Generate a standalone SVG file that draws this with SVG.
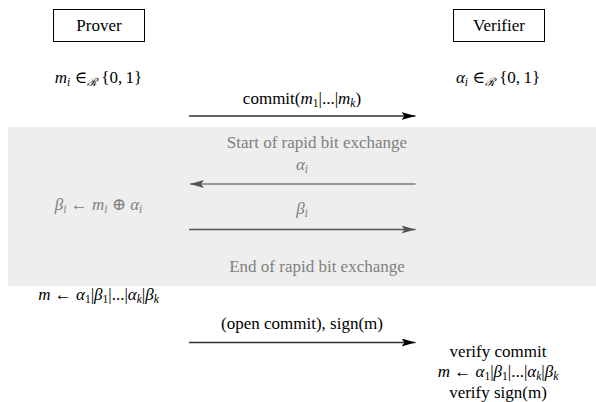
<svg xmlns="http://www.w3.org/2000/svg" width="596" height="402" viewBox="0 0 596 402">
  <style>
    text { font-family: "Liberation Serif", "DejaVu Serif", serif; font-size: 17px; fill: #000; text-anchor: middle; }
    .dim { fill: #808080; }
    .it { font-style: italic; }
    .sub { font-size: 11.5px; }
    .box { fill: #fff; stroke: #000; stroke-width: 1; }
    .msg { stroke: #333; stroke-width: 1.4; fill: none; }
    .msg-dim { stroke: #7a7a7a; stroke-width: 1.4; fill: none; }
    .msg-mid { stroke: #555; stroke-width: 1.4; fill: none; }
  </style>
  <defs>
    <marker id="head" markerWidth="14" markerHeight="8" refX="14" refY="4" orient="auto" markerUnits="userSpaceOnUse">
      <path d="M0,0 L14,4 L0,8 L3,4 Z" fill="#000"/>
    </marker>
    <marker id="head-gray" markerWidth="14" markerHeight="8" refX="14" refY="4" orient="auto" markerUnits="userSpaceOnUse">
      <path d="M0,0 L14,4 L0,8 L3,4 Z" fill="#555"/>
    </marker>
  </defs>

  <!-- rapid bit exchange phase -->
  <rect id="rapid-phase" x="8" y="127" width="588" height="159" fill="#eeeeee"/>

  <g id="prover">
    <rect class="box" x="53.5" y="9.5" width="91" height="32"/>
    <text x="99" y="31">Prover</text>
  </g>
  <g id="verifier">
    <rect class="box" x="453.5" y="9.5" width="91" height="32"/>
    <text x="499" y="31">Verifier</text>
  </g>

  <!-- prover-side computations -->
  <g id="prover-state">
    <text x="98.5" y="83"><tspan class="it">m</tspan><tspan class="it sub" dy="2.5">i</tspan><tspan dy="-2.5"> ∈</tspan><tspan class="it sub" dy="2.5">ℛ</tspan><tspan dy="-2.5"> {0,&#8201;1}</tspan></text>
    <text class="dim" x="98.5" y="210"><tspan class="it">β</tspan><tspan class="it sub" dy="2.5">i</tspan><tspan dy="-2.5"> ← </tspan><tspan class="it">m</tspan><tspan class="it sub" dy="2.5">i</tspan><tspan dy="-2.5"> ⊕ </tspan><tspan class="it">α</tspan><tspan class="it sub" dy="2.5">i</tspan></text>
    <text x="98.5" y="300"><tspan class="it">m</tspan> ← <tspan class="it">α</tspan><tspan class="sub" dy="2.5">1</tspan><tspan dy="-2.5">|</tspan><tspan class="it">β</tspan><tspan class="sub" dy="2.5">1</tspan><tspan dy="-2.5">|...|</tspan><tspan class="it">α</tspan><tspan class="it sub" dy="2.5">k</tspan><tspan dy="-2.5">|</tspan><tspan class="it">β</tspan><tspan class="it sub" dy="2.5">k</tspan></text>
  </g>

  <!-- verifier-side computations -->
  <g id="verifier-state">
    <text x="498" y="357">verify commit</text>
    <text x="498" y="377"><tspan class="it">m</tspan> ← <tspan class="it">α</tspan><tspan class="sub" dy="2.5">1</tspan><tspan dy="-2.5">|</tspan><tspan class="it">β</tspan><tspan class="sub" dy="2.5">1</tspan><tspan dy="-2.5">|...|</tspan><tspan class="it">α</tspan><tspan class="it sub" dy="2.5">k</tspan><tspan dy="-2.5">|</tspan><tspan class="it">β</tspan><tspan class="it sub" dy="2.5">k</tspan></text>
    <text x="498" y="398">verify sign(m)</text>
    <text x="498" y="83"><tspan class="it">α</tspan><tspan class="it sub" dy="2.5">i</tspan><tspan dy="-2.5"> ∈</tspan><tspan class="it sub" dy="2.5">ℛ</tspan><tspan dy="-2.5"> {0,&#8201;1}</tspan></text>
  </g>

  <!-- phase labels -->
  <g id="phase-labels">
    <text class="dim" x="317" y="148">Start of rapid bit exchange</text>
    <text class="dim" x="317" y="272">End of rapid bit exchange</text>
  </g>

  <!-- messages -->
  <g id="connectors">
    <line class="msg" x1="189" y1="116" x2="415.5" y2="116" marker-end="url(#head)"/>
    <text x="302" y="104">commit(<tspan class="it">m</tspan><tspan class="sub" dy="2.5">1</tspan><tspan dy="-2.5">|...|</tspan><tspan class="it">m</tspan><tspan class="it sub" dy="2.5">k</tspan><tspan dy="-2.5">)</tspan></text>

    <line class="msg-dim" x1="415.5" y1="184" x2="190" y2="184" marker-end="url(#head-gray)"/>
    <text class="dim" x="302" y="170"><tspan class="it">α</tspan><tspan class="it sub" dy="2.5">i</tspan></text>

    <line class="msg-mid" x1="189" y1="229.5" x2="415.5" y2="229.5" marker-end="url(#head-gray)"/>
    <text class="dim" x="302" y="214"><tspan class="it">β</tspan><tspan class="it sub" dy="2.5">i</tspan></text>

    <line class="msg" x1="189" y1="342.5" x2="415.5" y2="342.5" marker-end="url(#head)"/>
    <text x="302" y="329">(open commit), sign(m)</text>
  </g>
</svg>
